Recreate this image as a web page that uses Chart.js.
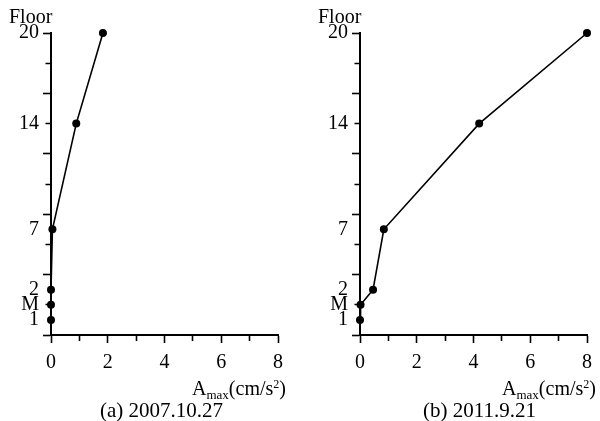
<!DOCTYPE html>
<html>
<head>
<meta charset="utf-8">
<script src="https://cdn.jsdelivr.net/npm/chart.js@4/dist/chart.umd.min.js"></script>
<style>
  html, body { margin:0; padding:0; background:#fff; }
  #wrap { position:relative; width:600px; height:421px; overflow:hidden; font-family:"Liberation Serif","Times New Roman",serif; color:#000; }
  canvas { position:absolute; top:0; }
  .t { position:absolute; white-space:nowrap; line-height:1; font-size:20px; }
  .t sub { font-size:13px; vertical-align:-4px; line-height:0; }
  .t sup { font-size:12px; vertical-align:7px; line-height:0; }
</style>
</head>
<body>
<div id="wrap">
  <canvas id="ca" width="300" height="421" style="left:0"></canvas>
  <canvas id="cb" width="300" height="421" style="left:300px"></canvas>
  <div class="t" style="left:9px;top:6px">Floor</div>
  <div class="t" style="left:318px;top:6px">Floor</div>
  <div class="t" style="left:192px;top:378px">A<sub>max</sub>(cm/s<sup>2</sup>)</div>
  <div class="t" style="left:502px;top:378px">A<sub>max</sub>(cm/s<sup>2</sup>)</div>
  <div class="t" style="left:100px;top:400px;font-size:21px">(a) 2007.10.27</div>
  <div class="t" style="left:423px;top:400px;font-size:21px">(b) 2011.9.21</div>
</div>
<script>
// ---- data ----
const floorLabels = ['1', 'M', '2', '7', '14', '20'];
const floorLevels = [1, 2, 3, 7, 14, 20];
const amaxA = [0, 0, 0, 0.05, 0.89, 1.83];      // (a) 2007.10.27
const amaxB = [0, 0.02, 0.46, 0.84, 4.2, 8.0];  // (b) 2011.9.21
const xTickLabels = [0, 2, 4, 6, 8];

const FONT = '"Liberation Serif","Times New Roman",serif';

function makeChart(id, values, yAxisWidth, padRight) {
  const yTicks = [];
  for (let v = 0; v <= 20; v += 2) yTicks.push(v);
  floorLevels.forEach(v => { if (!yTicks.includes(v)) yTicks.push(v); });
  yTicks.sort((a, b) => a - b);
  const xTicks = [];
  for (let v = 0; v <= 8; v++) xTicks.push(v);

  return new Chart(document.getElementById(id), {
    type: 'scatter',
    data: {
      datasets: [{
        data: floorLevels.map((f, i) => ({ x: values[i], y: f })),
        showLine: true,
        borderColor: '#000',
        backgroundColor: '#000',
        borderWidth: 1.6,
        pointRadius: 4,
        pointHoverRadius: 4,
        pointBorderWidth: 0,
        clip: false
      }]
    },
    options: {
      responsive: false,
      animation: false,
      devicePixelRatio: 1,
      events: [],
      plugins: { legend: { display: false }, tooltip: { enabled: false } },
      layout: { padding: { left: 0, right: padRight, top: 33, bottom: 26 } },
      scales: {
        x: {
          type: 'linear', min: 0, max: 8,
          afterBuildTicks: s => { s.ticks = xTicks.map(v => ({ value: v })); },
          afterFit: s => { s.height = 60; },
          ticks: {
            autoSkip: false, maxRotation: 0, padding: 8, color: '#000',
            font: { family: FONT, size: 20 },
            callback: v => xTickLabels.includes(v) ? String(v) : ''
          },
          grid: {
            drawOnChartArea: false, drawTicks: true, tickLength: 8,
            tickColor: '#000', tickWidth: 1.6,
            tickBorderDash: c => (c.tick && c.tick.value % 2 !== 0) ? [5, 100] : []
          },
          border: { color: '#000', width: 2 }
        },
        y: {
          type: 'linear', min: 0, max: 20,
          afterBuildTicks: s => { s.ticks = yTicks.map(v => ({ value: v })); },
          afterFit: s => { s.width = yAxisWidth; },
          ticks: {
            autoSkip: false, padding: 4, color: '#000',
            font: { family: FONT, size: 20 },
            callback: v => { const i = floorLevels.indexOf(v); return i >= 0 ? floorLabels[i] : ''; }
          },
          grid: {
            drawOnChartArea: false, drawTicks: true, tickLength: 8,
            tickWidth: 1.6,
            tickColor: c => (c.tick && c.tick.value % 2 === 0) ? '#000' : 'rgba(0,0,0,0)',
            tickBorderDash: c => (c.tick && c.tick.value % 4 !== 0) ? [0, 2.5, 6, 100] : []
          },
          border: { color: '#000', width: 2 }
        }
      }
    }
  });
}

makeChart('ca', amaxA, 51, 22);
makeChart('cb', amaxB, 60, 12);
</script>
</body>
</html>
